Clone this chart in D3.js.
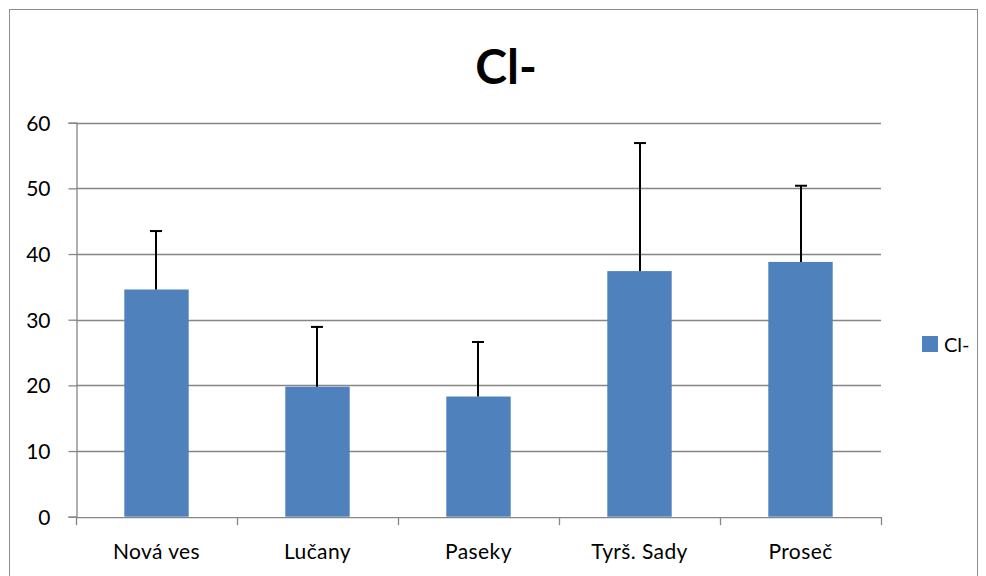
<!DOCTYPE html>
<html>
<head>
<meta charset="utf-8">
<script src="https://cdn.jsdelivr.net/npm/d3@7"></script>
<style>
  body { margin: 0; background: #fff; }
  text { font-family: Lato, "Open Sans", sans-serif; }
</style>
</head>
<body>
<svg id="chart" width="986" height="576"></svg>
<script>
// data
const categories = ['Nová ves', 'Lučany', 'Paseky', 'Tyrš. Sady', 'Proseč']
const values = [34.6, 19.8, 18.3, 37.4, 38.8]
const errorTops = [43.5, 28.9, 26.6, 56.9, 50.4]
const yTicks = [0, 10, 20, 30, 40, 50, 60]
const seriesName = 'Cl-'

const svg = d3.select('#chart')
const plot = { left: 76, right: 881, top: 122.7, bottom: 516.7 }

// outer chart frame
svg.append('rect')
  .attr('x', 9.5).attr('y', 9.5)
  .attr('width', 968).attr('height', 600)
  .attr('fill', 'none').attr('stroke', '#8c8c8c').attr('stroke-width', 1)

const x = d3.scaleBand().domain(categories).range([plot.left, plot.right]).paddingInner(0.6).paddingOuter(0.3)
const xCat = d3.scaleBand().domain(categories).range([plot.left, plot.right])
const y = d3.scaleLinear().domain([0, 60]).range([plot.bottom, plot.top])

// gridlines
svg.append('g')
  .selectAll('line')
  .data(yTicks.filter(d => d > 0))
  .join('line')
  .attr('x1', plot.left).attr('x2', plot.right)
  .attr('y1', d => Math.round(y(d)) + 0.5).attr('y2', d => Math.round(y(d)) + 0.5)
  .attr('stroke', '#868686').attr('stroke-width', 1.3)

// bars
svg.append('g')
  .selectAll('rect')
  .data(categories)
  .join('rect')
  .attr('x', d => x(d))
  .attr('width', x.bandwidth())
  .attr('y', (d, i) => y(values[i]))
  .attr('height', (d, i) => y(0) - y(values[i]))
  .attr('fill', '#4f81bd')

// error bars (upper only)
const err = svg.append('g').attr('stroke', '#000').attr('stroke-width', 2)
categories.forEach((c, i) => {
  const cx = Math.round(x(c) + x.bandwidth() / 2)
  err.append('line').attr('x1', cx).attr('x2', cx).attr('y1', y(values[i])).attr('y2', y(errorTops[i]))
  err.append('line').attr('x1', cx - 6).attr('x2', cx + 6).attr('y1', y(errorTops[i])).attr('y2', y(errorTops[i]))
})

// y axis
const yAxis = svg.append('g')
  .attr('transform', 'translate(' + (plot.left + 0.5) + ',0)')
  .call(d3.axisLeft(y).tickValues(yTicks).tickSize(8).tickPadding(18))
yAxis.select('.domain').attr('stroke', '#868686').attr('stroke-width', 1.3)
yAxis.selectAll('.tick line').attr('stroke', '#868686').attr('stroke-width', 1.3)
yAxis.selectAll('text').style('font-size', '21px').attr('fill', '#000').attr('dy', '0.36em')

// x axis
const xAxis = svg.append('g')
  .attr('transform', 'translate(0,' + (plot.bottom + 0.5) + ')')
  .call(d3.axisBottom(xCat).tickSize(0).tickPadding(27))
xAxis.select('.domain').attr('stroke', '#868686').attr('stroke-width', 1.3)
xAxis.selectAll('text').style('font-size', '21px').style('letter-spacing', '0.4px').attr('fill', '#000')
xAxis.append('g')
  .selectAll('line')
  .data(categories.concat(['end']))
  .join('line')
  .attr('x1', (d, i) => Math.round(plot.left + i * xCat.step()) + 0.5)
  .attr('x2', (d, i) => Math.round(plot.left + i * xCat.step()) + 0.5)
  .attr('y1', 0).attr('y2', 8)
  .attr('stroke', '#868686').attr('stroke-width', 1.3)

// title
svg.append('text')
  .attr('x', 506).attr('y', 84)
  .attr('text-anchor', 'middle')
  .style('font-size', '48px').attr('font-weight', 'bold')
  .text(seriesName)

// legend
const legend = svg.append('g').attr('transform', 'translate(922,336)')
legend.append('rect').attr('width', 16).attr('height', 16).attr('fill', '#4f81bd')
legend.append('text').attr('x', 22).attr('y', 16).style('font-size', '20px').text(seriesName)
</script>
</body>
</html>
